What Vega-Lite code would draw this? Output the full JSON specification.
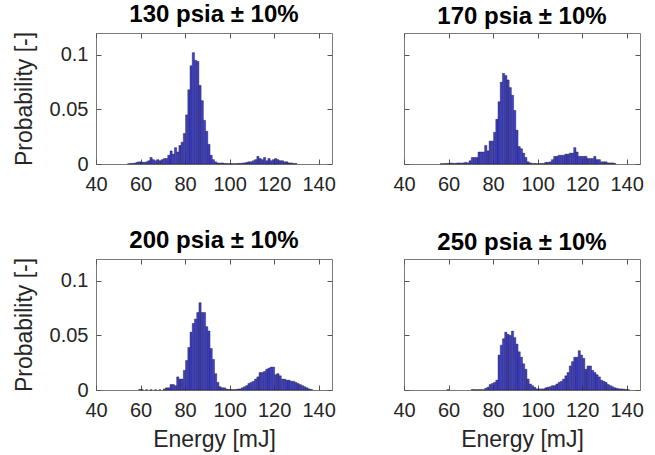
{
  "$schema": "https://vega.github.io/schema/vega-lite/v6.json",
  "background": "white",
  "padding": {"left": 12, "top": 2, "right": 0, "bottom": 0},
  "config": {
    "font": "Liberation Sans",
    "view": {"stroke": "#7a7a7a", "strokeWidth": 1},
    "axis": {"grid": false, "domain": false, "labelFlush": false, "tickColor": "#555555", "tickSize": -5, "labelFont": "Liberation Sans", "labelFontSize": 20, "labelColor": "#262626", "titleFont": "Liberation Sans", "titleFontSize": 23, "titleFontWeight": "normal", "titleColor": "#262626"},
    "title": {"font": "Liberation Sans", "fontSize": 24, "fontWeight": "bold", "color": "#000000", "offset": 4, "frame": "group", "anchor": "middle"}
  },
  "datasets": {
    "h": [
      {"g":1,"e":54,"p":0.0003},{"g":1,"e":55,"p":0.0005},{"g":1,"e":56,"p":0.0005},{"g":1,"e":57,"p":0.001},{"g":1,"e":58,"p":0.0018},{"g":1,"e":59,"p":0.002},{"g":1,"e":60,"p":0.0018},{"g":1,"e":61,"p":0.0015},{"g":1,"e":62,"p":0.002},{"g":1,"e":63,"p":0.003},{"g":1,"e":64,"p":0.006},{"g":1,"e":65,"p":0.004},{"g":1,"e":66,"p":0.003},{"g":1,"e":67,"p":0.004},{"g":1,"e":68,"p":0.003},{"g":1,"e":69,"p":0.004},{"g":1,"e":70,"p":0.005},{"g":1,"e":71,"p":0.005},{"g":1,"e":72,"p":0.008},{"g":1,"e":73,"p":0.012},{"g":1,"e":74,"p":0.009},{"g":1,"e":75,"p":0.015},{"g":1,"e":76,"p":0.011},{"g":1,"e":77,"p":0.017},{"g":1,"e":78,"p":0.02},{"g":1,"e":79,"p":0.028},{"g":1,"e":80,"p":0.045},{"g":1,"e":81,"p":0.068},{"g":1,"e":82,"p":0.09},{"g":1,"e":83,"p":0.102},{"g":1,"e":84,"p":0.095},{"g":1,"e":85,"p":0.094},{"g":1,"e":86,"p":0.072},{"g":1,"e":87,"p":0.058},{"g":1,"e":88,"p":0.04},{"g":1,"e":89,"p":0.03},{"g":1,"e":90,"p":0.018},{"g":1,"e":91,"p":0.008},{"g":1,"e":92,"p":0.004},{"g":1,"e":93,"p":0.002},{"g":1,"e":94,"p":0.001},{"g":1,"e":95,"p":0.0008},{"g":1,"e":96,"p":0.001},{"g":1,"e":97,"p":0.0005},{"g":1,"e":98,"p":0.0005},{"g":1,"e":99,"p":0.0003},{"g":1,"e":100,"p":0.0005},{"g":1,"e":101,"p":0.0003},{"g":1,"e":102,"p":0.0003},{"g":1,"e":103,"p":0.0005},{"g":1,"e":104,"p":0.0005},{"g":1,"e":105,"p":0.0008},{"g":1,"e":106,"p":0.001},{"g":1,"e":107,"p":0.0015},{"g":1,"e":108,"p":0.002},{"g":1,"e":109,"p":0.002},{"g":1,"e":110,"p":0.003},{"g":1,"e":111,"p":0.004},{"g":1,"e":112,"p":0.007},{"g":1,"e":113,"p":0.005},{"g":1,"e":114,"p":0.004},{"g":1,"e":115,"p":0.006},{"g":1,"e":116,"p":0.003},{"g":1,"e":117,"p":0.005},{"g":1,"e":118,"p":0.003},{"g":1,"e":119,"p":0.004},{"g":1,"e":120,"p":0.005},{"g":1,"e":121,"p":0.004},{"g":1,"e":122,"p":0.003},{"g":1,"e":123,"p":0.003},{"g":1,"e":124,"p":0.002},{"g":1,"e":125,"p":0.002},{"g":1,"e":126,"p":0.001},{"g":1,"e":127,"p":0.001},{"g":1,"e":128,"p":0.0005},{"g":1,"e":129,"p":0.0005},
      {"g":2,"e":56,"p":0.0003},{"g":2,"e":57,"p":0.0003},{"g":2,"e":58,"p":0.0005},{"g":2,"e":59,"p":0.0005},{"g":2,"e":60,"p":0.0008},{"g":2,"e":61,"p":0.0008},{"g":2,"e":62,"p":0.0005},{"g":2,"e":63,"p":0.0008},{"g":2,"e":64,"p":0.001},{"g":2,"e":65,"p":0.0008},{"g":2,"e":66,"p":0.001},{"g":2,"e":67,"p":0.0015},{"g":2,"e":68,"p":0.001},{"g":2,"e":69,"p":0.003},{"g":2,"e":70,"p":0.006},{"g":2,"e":71,"p":0.006},{"g":2,"e":72,"p":0.006},{"g":2,"e":73,"p":0.011},{"g":2,"e":74,"p":0.011},{"g":2,"e":75,"p":0.011},{"g":2,"e":76,"p":0.017},{"g":2,"e":77,"p":0.012},{"g":2,"e":78,"p":0.021},{"g":2,"e":79,"p":0.021},{"g":2,"e":80,"p":0.029},{"g":2,"e":81,"p":0.041},{"g":2,"e":82,"p":0.057},{"g":2,"e":83,"p":0.075},{"g":2,"e":84,"p":0.083},{"g":2,"e":85,"p":0.081},{"g":2,"e":86,"p":0.077},{"g":2,"e":87,"p":0.07},{"g":2,"e":88,"p":0.063},{"g":2,"e":89,"p":0.049},{"g":2,"e":90,"p":0.031},{"g":2,"e":91,"p":0.016},{"g":2,"e":92,"p":0.014},{"g":2,"e":93,"p":0.01},{"g":2,"e":94,"p":0.006},{"g":2,"e":95,"p":0.002},{"g":2,"e":96,"p":0.001},{"g":2,"e":97,"p":0.0005},{"g":2,"e":98,"p":0.0005},{"g":2,"e":99,"p":0.0003},{"g":2,"e":100,"p":0.0003},{"g":2,"e":101,"p":0.0005},{"g":2,"e":102,"p":0.0005},{"g":2,"e":103,"p":0.0015},{"g":2,"e":104,"p":0.0015},{"g":2,"e":105,"p":0.002},{"g":2,"e":106,"p":0.004},{"g":2,"e":107,"p":0.007},{"g":2,"e":108,"p":0.007},{"g":2,"e":109,"p":0.008},{"g":2,"e":110,"p":0.008},{"g":2,"e":111,"p":0.008},{"g":2,"e":112,"p":0.009},{"g":2,"e":113,"p":0.009},{"g":2,"e":114,"p":0.01},{"g":2,"e":115,"p":0.01},{"g":2,"e":116,"p":0.015},{"g":2,"e":117,"p":0.011},{"g":2,"e":118,"p":0.007},{"g":2,"e":119,"p":0.007},{"g":2,"e":120,"p":0.007},{"g":2,"e":121,"p":0.007},{"g":2,"e":122,"p":0.005},{"g":2,"e":123,"p":0.005},{"g":2,"e":124,"p":0.005},{"g":2,"e":125,"p":0.007},{"g":2,"e":126,"p":0.004},{"g":2,"e":127,"p":0.004},{"g":2,"e":128,"p":0.002},{"g":2,"e":129,"p":0.002},{"g":2,"e":130,"p":0.002},{"g":2,"e":131,"p":0.001},{"g":2,"e":132,"p":0.001},{"g":2,"e":133,"p":0.001},{"g":2,"e":134,"p":0.0005},
      {"g":3,"e":59,"p":0.0005},{"g":3,"e":60,"p":0.0003},{"g":3,"e":62,"p":0.0002},{"g":3,"e":64,"p":0.0002},{"g":3,"e":66,"p":0.0002},{"g":3,"e":68,"p":0.0002},{"g":3,"e":70,"p":0.001},{"g":3,"e":71,"p":0.002},{"g":3,"e":72,"p":0.002},{"g":3,"e":73,"p":0.005},{"g":3,"e":74,"p":0.005},{"g":3,"e":75,"p":0.004},{"g":3,"e":76,"p":0.012},{"g":3,"e":77,"p":0.01},{"g":3,"e":78,"p":0.01},{"g":3,"e":79,"p":0.018},{"g":3,"e":80,"p":0.027},{"g":3,"e":81,"p":0.039},{"g":3,"e":82,"p":0.053},{"g":3,"e":83,"p":0.061},{"g":3,"e":84,"p":0.065},{"g":3,"e":85,"p":0.071},{"g":3,"e":86,"p":0.08},{"g":3,"e":87,"p":0.071},{"g":3,"e":88,"p":0.071},{"g":3,"e":89,"p":0.058},{"g":3,"e":90,"p":0.054},{"g":3,"e":91,"p":0.038},{"g":3,"e":92,"p":0.028},{"g":3,"e":93,"p":0.015},{"g":3,"e":94,"p":0.007},{"g":3,"e":95,"p":0.003},{"g":3,"e":96,"p":0.002},{"g":3,"e":97,"p":0.002},{"g":3,"e":98,"p":0.0008},{"g":3,"e":99,"p":0.0005},{"g":3,"e":100,"p":0.0005},{"g":3,"e":101,"p":0.0003},{"g":3,"e":102,"p":0.0005},{"g":3,"e":103,"p":0.0008},{"g":3,"e":104,"p":0.001},{"g":3,"e":105,"p":0.002},{"g":3,"e":106,"p":0.003},{"g":3,"e":107,"p":0.004},{"g":3,"e":108,"p":0.006},{"g":3,"e":109,"p":0.007},{"g":3,"e":110,"p":0.008},{"g":3,"e":111,"p":0.01},{"g":3,"e":112,"p":0.012},{"g":3,"e":113,"p":0.016},{"g":3,"e":114,"p":0.016},{"g":3,"e":115,"p":0.017},{"g":3,"e":116,"p":0.019},{"g":3,"e":117,"p":0.02},{"g":3,"e":118,"p":0.021},{"g":3,"e":119,"p":0.021},{"g":3,"e":120,"p":0.014},{"g":3,"e":121,"p":0.015},{"g":3,"e":122,"p":0.013},{"g":3,"e":123,"p":0.01},{"g":3,"e":124,"p":0.01},{"g":3,"e":125,"p":0.009},{"g":3,"e":126,"p":0.009},{"g":3,"e":127,"p":0.008},{"g":3,"e":128,"p":0.008},{"g":3,"e":129,"p":0.007},{"g":3,"e":130,"p":0.006},{"g":3,"e":131,"p":0.005},{"g":3,"e":132,"p":0.004},{"g":3,"e":133,"p":0.003},{"g":3,"e":134,"p":0.002},{"g":3,"e":135,"p":0.001},{"g":3,"e":136,"p":0.0005},
      {"g":4,"e":59,"p":0.0003},{"g":4,"e":70,"p":0.0005},{"g":4,"e":71,"p":0.0003},{"g":4,"e":72,"p":0.0003},{"g":4,"e":73,"p":0.0003},{"g":4,"e":74,"p":0.0003},{"g":4,"e":75,"p":0.0003},{"g":4,"e":76,"p":0.0015},{"g":4,"e":77,"p":0.0025},{"g":4,"e":78,"p":0.005},{"g":4,"e":79,"p":0.006},{"g":4,"e":80,"p":0.007},{"g":4,"e":81,"p":0.009},{"g":4,"e":82,"p":0.032},{"g":4,"e":83,"p":0.041},{"g":4,"e":84,"p":0.047},{"g":4,"e":85,"p":0.053},{"g":4,"e":86,"p":0.051},{"g":4,"e":87,"p":0.05},{"g":4,"e":88,"p":0.054},{"g":4,"e":89,"p":0.048},{"g":4,"e":90,"p":0.042},{"g":4,"e":91,"p":0.035},{"g":4,"e":92,"p":0.03},{"g":4,"e":93,"p":0.024},{"g":4,"e":94,"p":0.019},{"g":4,"e":95,"p":0.01},{"g":4,"e":96,"p":0.0055},{"g":4,"e":97,"p":0.004},{"g":4,"e":98,"p":0.0025},{"g":4,"e":99,"p":0.001},{"g":4,"e":100,"p":0.001},{"g":4,"e":101,"p":0.001},{"g":4,"e":102,"p":0.001},{"g":4,"e":103,"p":0.002},{"g":4,"e":104,"p":0.0025},{"g":4,"e":105,"p":0.003},{"g":4,"e":106,"p":0.004},{"g":4,"e":107,"p":0.004},{"g":4,"e":108,"p":0.0055},{"g":4,"e":109,"p":0.007},{"g":4,"e":110,"p":0.008},{"g":4,"e":111,"p":0.01},{"g":4,"e":112,"p":0.013},{"g":4,"e":113,"p":0.016},{"g":4,"e":114,"p":0.022},{"g":4,"e":115,"p":0.026},{"g":4,"e":116,"p":0.03},{"g":4,"e":117,"p":0.03},{"g":4,"e":118,"p":0.036},{"g":4,"e":119,"p":0.032},{"g":4,"e":120,"p":0.029},{"g":4,"e":121,"p":0.019},{"g":4,"e":122,"p":0.022},{"g":4,"e":123,"p":0.022},{"g":4,"e":124,"p":0.018},{"g":4,"e":125,"p":0.016},{"g":4,"e":126,"p":0.014},{"g":4,"e":127,"p":0.012},{"g":4,"e":128,"p":0.009},{"g":4,"e":129,"p":0.008},{"g":4,"e":130,"p":0.007},{"g":4,"e":131,"p":0.005},{"g":4,"e":132,"p":0.004},{"g":4,"e":133,"p":0.003},{"g":4,"e":134,"p":0.002},{"g":4,"e":135,"p":0.0015},{"g":4,"e":136,"p":0.001},{"g":4,"e":137,"p":0.001},{"g":4,"e":138,"p":0.0008},{"g":4,"e":139,"p":0.0005},{"g":4,"e":140,"p":0.0003}
    ]
  },
  "spacing": 33,
  "vconcat": [
    {
      "spacing": 56,
      "hconcat": [
        {
          "width": 236, "height": 131,
          "title": "130 psia ± 10%",
          "data": {"name": "h"},
          "transform": [{"filter": "datum.g == 1"}],
          "layer": [
            {"mark": {"type": "bar", "fill": "#4040d4", "stroke": "#1a1a1a", "strokeWidth": 0.4, "binSpacing": 0},
             "encoding": {
               "x": {"field": "e", "type": "quantitative", "bin": {"binned": true, "step": 1}, "scale": {"domain": [40, 146], "nice": false, "zero": false}, "axis": {"values": [40, 60, 80, 100, 120, 140], "title": null, "labelPadding": 15}},
               "y": {"field": "p", "type": "quantitative", "scale": {"domain": [0, 0.12], "nice": false}, "axis": {"values": [0, 0.05, 0.1], "format": ".2~f", "title": "Probability [-]", "labelPadding": 13, "titlePadding": 13}}
             }},
            {"mark": {"type": "point", "opacity": 0},
             "encoding": {
               "x": {"field": "e", "type": "quantitative", "axis": {"orient": "top", "values": [40, 60, 80, 100, 120, 140], "labels": false, "title": null}},
               "y": {"field": "p", "type": "quantitative", "axis": {"orient": "right", "values": [0, 0.05, 0.1], "labels": false, "title": null}}
             }}
          ],
          "resolve": {"axis": {"x": "independent", "y": "independent"}}
        },
        {
          "width": 236, "height": 131,
          "title": "170 psia ± 10%",
          "data": {"name": "h"},
          "transform": [{"filter": "datum.g == 2"}],
          "layer": [
            {"mark": {"type": "bar", "fill": "#4040d4", "stroke": "#1a1a1a", "strokeWidth": 0.4, "binSpacing": 0},
             "encoding": {
               "x": {"field": "e", "type": "quantitative", "bin": {"binned": true, "step": 1}, "scale": {"domain": [40, 146], "nice": false, "zero": false}, "axis": {"values": [40, 60, 80, 100, 120, 140], "title": null, "labelPadding": 15}},
               "y": {"field": "p", "type": "quantitative", "scale": {"domain": [0, 0.12], "nice": false}, "axis": {"values": [0, 0.05, 0.1], "labels": false, "title": null}}
             }},
            {"mark": {"type": "point", "opacity": 0},
             "encoding": {
               "x": {"field": "e", "type": "quantitative", "axis": {"orient": "top", "values": [40, 60, 80, 100, 120, 140], "labels": false, "title": null}},
               "y": {"field": "p", "type": "quantitative", "axis": {"orient": "right", "values": [0, 0.05, 0.1], "labels": false, "title": null}}
             }}
          ],
          "resolve": {"axis": {"x": "independent", "y": "independent"}}
        }
      ]
    },
    {
      "spacing": 56,
      "hconcat": [
        {
          "width": 236, "height": 131,
          "title": "200 psia ± 10%",
          "data": {"name": "h"},
          "transform": [{"filter": "datum.g == 3"}],
          "layer": [
            {"mark": {"type": "bar", "fill": "#4040d4", "stroke": "#1a1a1a", "strokeWidth": 0.4, "binSpacing": 0},
             "encoding": {
               "x": {"field": "e", "type": "quantitative", "bin": {"binned": true, "step": 1}, "scale": {"domain": [40, 146], "nice": false, "zero": false}, "axis": {"values": [40, 60, 80, 100, 120, 140], "title": "Energy [mJ]", "labelPadding": 15, "titlePadding": 8}},
               "y": {"field": "p", "type": "quantitative", "scale": {"domain": [0, 0.12], "nice": false}, "axis": {"values": [0, 0.05, 0.1], "format": ".2~f", "title": "Probability [-]", "labelPadding": 13, "titlePadding": 13}}
             }},
            {"mark": {"type": "point", "opacity": 0},
             "encoding": {
               "x": {"field": "e", "type": "quantitative", "axis": {"orient": "top", "values": [40, 60, 80, 100, 120, 140], "labels": false, "title": null}},
               "y": {"field": "p", "type": "quantitative", "axis": {"orient": "right", "values": [0, 0.05, 0.1], "labels": false, "title": null}}
             }}
          ],
          "resolve": {"axis": {"x": "independent", "y": "independent"}}
        },
        {
          "width": 236, "height": 131,
          "title": "250 psia ± 10%",
          "data": {"name": "h"},
          "transform": [{"filter": "datum.g == 4"}],
          "layer": [
            {"mark": {"type": "bar", "fill": "#4040d4", "stroke": "#1a1a1a", "strokeWidth": 0.4, "binSpacing": 0},
             "encoding": {
               "x": {"field": "e", "type": "quantitative", "bin": {"binned": true, "step": 1}, "scale": {"domain": [40, 146], "nice": false, "zero": false}, "axis": {"values": [40, 60, 80, 100, 120, 140], "title": "Energy [mJ]", "labelPadding": 15, "titlePadding": 8}},
               "y": {"field": "p", "type": "quantitative", "scale": {"domain": [0, 0.12], "nice": false}, "axis": {"values": [0, 0.05, 0.1], "labels": false, "title": null}}
             }},
            {"mark": {"type": "point", "opacity": 0},
             "encoding": {
               "x": {"field": "e", "type": "quantitative", "axis": {"orient": "top", "values": [40, 60, 80, 100, 120, 140], "labels": false, "title": null}},
               "y": {"field": "p", "type": "quantitative", "axis": {"orient": "right", "values": [0, 0.05, 0.1], "labels": false, "title": null}}
             }}
          ],
          "resolve": {"axis": {"x": "independent", "y": "independent"}}
        }
      ]
    }
  ]
}
